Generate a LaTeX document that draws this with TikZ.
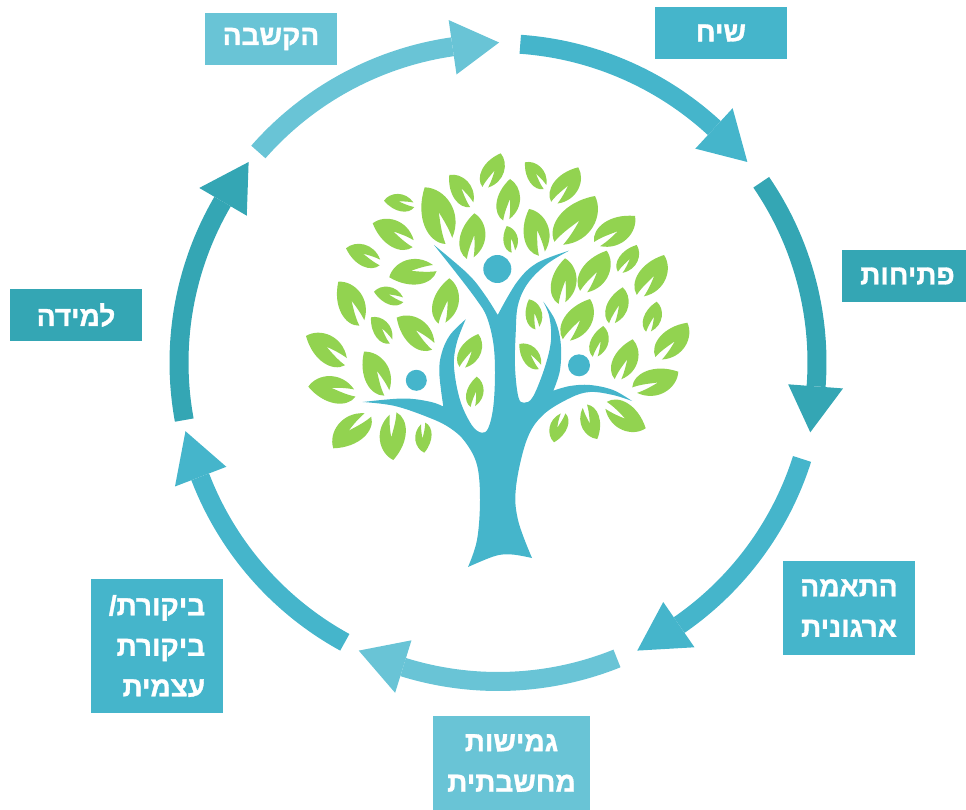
\documentclass[tikz,border=0pt]{standalone}
\usepackage{fontspec}
\setmainfont{Liberation Sans}
\newfontfamily\hebfont[Script=Hebrew,BoldFeatures={FakeBold=1.2}]{Liberation Sans}
\TeXXeTstate=1
\usetikzlibrary{calc}
\definecolor{midc}{HTML}{45B5CB}
\definecolor{darkc}{HTML}{34A6B4}
\definecolor{lightc}{HTML}{69C4D6}
\definecolor{leafc}{HTML}{92D350}
\tikzset{
 labelbox/.style={inner sep=0pt,outer sep=0pt},
 labeltext/.style={text=white,font=\hebfont\bfseries\fontsize{28}{40.5}\selectfont,inner sep=0pt},
 ringline/.style={line width=19pt},
}
\newcommand\ringarrow[5]{% start, head base, tip, colour, name
 \coordinate (#5s) at ($(c)+(#1:319)$);
 \coordinate (#5b) at ($(c)+(#2:319)$);
 \coordinate (#5t) at ($(c)+(#3:320)$);
 \draw[ringline,#4] (#5s) arc[start angle=#1,end angle=#2,radius=319];
 \fill[#4] ($(c)+(#2:291)$) -- ($(c)+(#2:346)$) -- (#5t) -- cycle;
}
\newcommand\boxlabel[9]{% name, x1,y1,x2,y2, colour, align, text shift, text
 \node[labelbox,fill=#6,minimum width=#4pt-#2pt,minimum height=#5pt-#3pt] (#1) at ({(#2+#4)/2},{(#3+#5)/2}) {};
 \node[labeltext,align=#7,xshift=#8pt] (#1t) at (#1) {#9};
}
\newcommand\leaf[4]{% base x,y  tip x,y
 \pgfmathsetmacro\leafux{#3-#1}\pgfmathsetmacro\leafuy{#4-#2}
 \pgfmathsetmacro\leafmy{-1*\leafuy}
 \pgfmathsetmacro\leafvx{1.12*\leafuy}\pgfmathsetmacro\leafvy{1.12*\leafux}
 \begin{scope}[shift={(#1,#2)},x={(\leafux pt,\leafmy pt)},y={(\leafvx pt,\leafvy pt)}]
 \fill[leafc] (-0.02,0.06) .. controls (0.12,0.3) and (0.6,0.32) .. (1,0)
   .. controls (0.85,-0.28) and (0.35,-0.38) .. (0.03,-0.07)
   .. controls (0.2,-0.08) and (0.38,-0.06) .. (0.52,-0.04)
   .. controls (0.38,-0.01) and (0.2,0.05) .. cycle;
 \end{scope}
}
\begin{document}
\begin{tikzpicture}[x=1pt,y=-1pt]
\useasboundingbox (0,0) rectangle (966,810);
\coordinate (c) at (498,362.5);
\ringarrow{-86}{-47.3}{-38.8}{midc}{a}
\ringarrow{-34.4}{4.3}{12.6}{darkc}{b}
\ringarrow{17.6}{55.4}{64.2}{midc}{d}
\ringarrow{68.1}{107.3}{115.8}{lightc}{e}
\ringarrow{118.7}{159}{167.6}{midc}{f}
\ringarrow{169.6}{210.3}{218.8}{darkc}{g}
\ringarrow{221.3}{261.8}{270.2}{lightc}{h}

\boxlabel{n1}{655}{7}{787}{59}{midc}{center}{0}{\beginR שיח\endR}
\boxlabel{n2}{842}{250}{966}{302}{darkc}{center}{3.5}{\beginR פתיחות\endR}
\boxlabel{n3}{783}{561}{915}{655}{midc}{center}{0}{\beginR התאמה\endR\\\beginR ארגונית\endR}
\boxlabel{n4}{433}{716}{590}{810}{lightc}{center}{0}{\beginR גמישות\endR\\\beginR מחשבתית\endR}
\boxlabel{n5}{91}{579}{223}{713}{midc}{right}{0}{\beginR ביקורת/\endR\\\beginR ביקורת\endR\\\beginR עצמית\endR}
\boxlabel{n6}{10}{289}{142}{341}{darkc}{center}{0}{\beginR למידה\endR}
\boxlabel{n7}{205}{13}{337}{65}{lightc}{center}{0}{\beginR הקשבה\endR}

% leaves
\leaf{448.7}{241.3}{424.7}{187.3}
\leaf{471.7}{205}{449.3}{175}
\leaf{470}{258.3}{474.3}{213.3}
\leaf{414}{205}{384}{200.7}
\leaf{413.3}{244}{372.7}{223.3}
\leaf{380}{262.7}{346}{248.3}
\leaf{435}{268.3}{389.3}{277.3}
\leaf{403.3}{300}{374}{291.7}
\leaf{361.7}{323.3}{338.3}{281.7}
\leaf{391}{341.7}{371}{317.3}
\leaf{433.3}{346.7}{396.7}{317.7}
\leaf{441.7}{323.3}{449.3}{278.3}
\leaf{346}{362}{306}{336}
\leaf{485}{187.3}{500.7}{153.3}
\leaf{545}{187.3}{525}{162.3}
\leaf{506}{220}{510}{179}
\leaf{554}{202.7}{578.3}{167.3}
\leaf{541.7}{254}{529}{209}
\leaf{513.3}{251.7}{506.7}{226}
\leaf{558.3}{243.3}{595}{196}
\leaf{596.7}{244}{635}{216}
\leaf{620}{272.3}{636.7}{245}
\leaf{583.3}{291.7}{606.7}{250.7}
\leaf{561.7}{303.3}{565}{258.3}
\leaf{640}{295.7}{664}{255}
\leaf{611.7}{323.3}{622.7}{287.3}
\leaf{566}{340}{590}{299}
\leaf{648.3}{331.7}{656.7}{301.7}
\leaf{658.3}{358.3}{687.3}{322.7}
\leaf{537.3}{328.3}{529}{299.3}
\leaf{595}{356.7}{603.3}{326}
\leaf{617.7}{379.3}{632.7}{339.3}
\leaf{540}{367.3}{519.3}{344}
\leaf{634.3}{390}{678.3}{371.7}
\leaf{606}{405}{645.7}{428.3}
\leaf{585}{406}{597.3}{439}
\leaf{563.3}{413.3}{554}{442.3}
\leaf{355}{393.3}{308.3}{386.7}
\leaf{386.7}{393.3}{364}{351.7}
\leaf{368.3}{415}{333.3}{448.3}
\leaf{393.3}{413.3}{393.3}{460}
\leaf{423.3}{423.3}{424.3}{452.7}
\leaf{462}{367.3}{478.3}{334}
\leaf{472.7}{406.7}{476.7}{376.7}

% tree
\fill[midc]
 plot[smooth,tension=.6] coordinates {(468,567) (477,540) (480,500) (477,465) (465,441.7) (450,428) (430,418) (395,406) (362.7,402)}
 -- plot[smooth,tension=.6] coordinates {(362.7,402) (403,398.5) (430,401.7) (443.3,406.5)}
 -- plot[smooth,tension=.6] coordinates {(443.3,406.5) (439.3,373) (441.7,353) (450,335) (465.7,319.3)}
 -- plot[smooth,tension=.6] coordinates {(465.7,319.3) (456.7,343) (454,366.7) (460,400) (471.7,425) (481.7,432.7) (488.3,428) (493.3,406.7) (495,373) (493.3,343) (486.7,316.7) (476.7,300) (457,274) (434,245)}
 -- plot[smooth,tension=.6] coordinates {(434,245) (468,274) (485,295) (497.7,315)}
 -- plot[smooth,tension=.6] coordinates {(497.7,315) (517,282) (537,263) (569,250.7)}
 -- plot[smooth,tension=.6] coordinates {(569,250.7) (547,264) (528,283) (518,305) (515.7,333) (515,366.7) (518.3,396.7) (524,402.7) (533,396.7) (545,366.7) (551,340) (549.3,316.7) (543.3,301.7)}
 -- plot[smooth,tension=.6] coordinates {(543.3,301.7) (555,320) (560.7,343) (560,370) (553.3,390.7)}
 -- plot[smooth,tension=.6] coordinates {(553.3,390.7) (570,386) (590,385) (613,390) (632,401)}
 -- plot[smooth,tension=.6] coordinates {(632,401) (613,395) (590,392) (570,398) (543,415) (526.7,440) (516,487) (518,520) (532,558)}
 -- plot[smooth,tension=.6] coordinates {(532,558) (512,554.5) (495,556) (468,567)} -- cycle;
\fill[midc] (497.3,269) circle[radius=14];
\fill[midc] (416.3,380.3) circle[radius=10.5];
\fill[midc] (579,365.3) circle[radius=11];
\end{tikzpicture}
\end{document}
